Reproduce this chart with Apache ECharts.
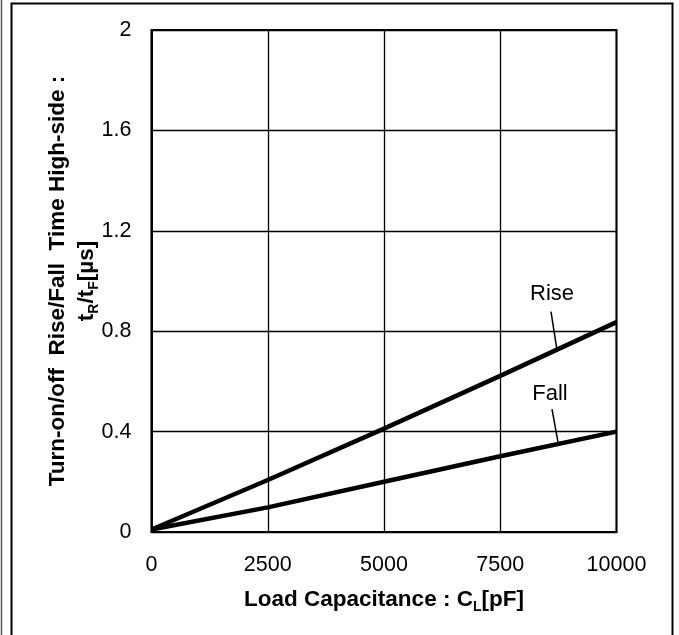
<!DOCTYPE html>
<html>
<head>
<meta charset="utf-8">
<script src="https://cdn.jsdelivr.net/npm/echarts@6/dist/echarts.min.js"></script>
<style>
html,body{margin:0;padding:0;background:#fff;}
#c{width:679px;height:635px;}
</style>
</head>
<body>
<div id="c"></div>
<script>
// Data
const capacitance = [0, 2500, 5000, 7500, 10000];          // pF
const riseTime   = [0.01, 0.207, 0.412, 0.622, 0.836];    // µs
const fallTime   = [0.01, 0.098, 0.200, 0.302, 0.400];    // µs
const xTicks = [0, 2500, 5000, 7500, 10000];
const yTicks = [0, 0.4, 0.8, 1.2, 1.6, 2];
const seriesNames = ['Rise', 'Fall'];

const FONT = '"Liberation Sans", Arial, sans-serif';
const chart = echarts.init(document.getElementById('c'), null, {renderer: 'canvas'});

function pairs(xs, ys) { return xs.map((x, i) => [x, ys[i]]); }

const subRich = {
  b: {fontFamily: FONT, fontWeight: 'bold', fontSize: 22.5, color: '#000', lineHeight: 29},
  s: {fontFamily: FONT, fontWeight: 'bold', fontSize: 14, color: '#000', lineHeight: 17, verticalAlign: 'bottom'}
};

function annot(label, textCoord, lineFrom, lineTo) {
  return {
    markLine: {
      silent: true, symbol: ['none', 'none'],
      lineStyle: {color: '#000', width: 1.5, type: 'solid'},
      label: {show: false},
      data: [[{coord: lineFrom}, {coord: lineTo}]]
    },
    markPoint: {
      silent: true, symbol: 'circle', symbolSize: 1,
      itemStyle: {color: 'rgba(0,0,0,0)'},
      label: {show: true, position: 'inside', formatter: label, color: '#000',
              fontFamily: FONT, fontSize: 22},
      data: [{coord: textCoord}]
    }
  };
}

const option = {
  animation: false,
  backgroundColor: '#fff',
  grid: {left: 151.5, right: 62.5, top: 30, bottom: 103, show: true,
         borderColor: '#000', borderWidth: 2, backgroundColor: 'transparent'},
  xAxis: {
    type: 'value', min: xTicks[0], max: xTicks[xTicks.length - 1], interval: 2500,
    name: 'Load Capacitance : {b|C}{s|L}{b|[pF]}',
    nameLocation: 'middle', nameGap: 53, nameMoveOverlap: false,
    nameTextStyle: {fontFamily: FONT, fontWeight: 'bold', fontSize: 22.5, color: '#000', rich: subRich},
    axisLine: {show: true, lineStyle: {color: '#000', width: 2}},
    axisTick: {show: false},
    axisLabel: {color: '#000', fontFamily: FONT, fontSize: 21.5, margin: 22,
                formatter: v => String(v)},
    splitLine: {show: true, lineStyle: {color: '#000', width: 1.3}}
  },
  yAxis: {
    type: 'value', min: yTicks[0], max: yTicks[yTicks.length - 1], interval: 0.4,
    name: 'Turn-on/off  Rise/Fall  Time High-side :\n{b|t}{s|R}{b|/t}{s|F}{b|[µs]}',
    nameLocation: 'middle', nameRotate: 90, nameGap: 50, nameMoveOverlap: false,
    nameTextStyle: {fontFamily: FONT, fontWeight: 'bold', fontSize: 22.5, color: '#000',
                    lineHeight: 29, rich: subRich},
    axisLine: {show: true, lineStyle: {color: '#000', width: 2}},
    axisTick: {show: false},
    axisLabel: {color: '#000', fontFamily: FONT, fontSize: 21.5, margin: 20,
                formatter: v => String(Math.round(v * 10) / 10)},
    splitLine: {show: true, lineStyle: {color: '#000', width: 1.3}}
  },
  series: [
    Object.assign({
      name: seriesNames[0], type: 'line', data: pairs(capacitance, riseTime),
      showSymbol: false, symbol: 'none', smooth: false,
      lineStyle: {color: '#000', width: 4.5}, z: 5
    }, annot('Rise', [8613, 0.948], [8591, 0.878], [8720, 0.725])),
    Object.assign({
      name: seriesNames[1], type: 'line', data: pairs(capacitance, fallTime),
      showSymbol: false, symbol: 'none', smooth: false,
      lineStyle: {color: '#000', width: 4.5}, z: 5
    }, annot('Fall', [8570, 0.550], [8613, 0.490], [8753, 0.347]))
  ],
  graphic: [
    {type: 'line', silent: true, shape: {x1: 1.5, y1: 0, x2: 1.5, y2: 635},
     style: {stroke: '#555', lineWidth: 1.5}},
    {type: 'polyline', silent: true,
     shape: {points: [[11.5, 635], [11.5, 3.5], [672.5, 3.5], [672.5, 635]]},
     style: {stroke: '#000', lineWidth: 2, fill: null}}
  ]
};
chart.setOption(option);
</script>
</body>
</html>
